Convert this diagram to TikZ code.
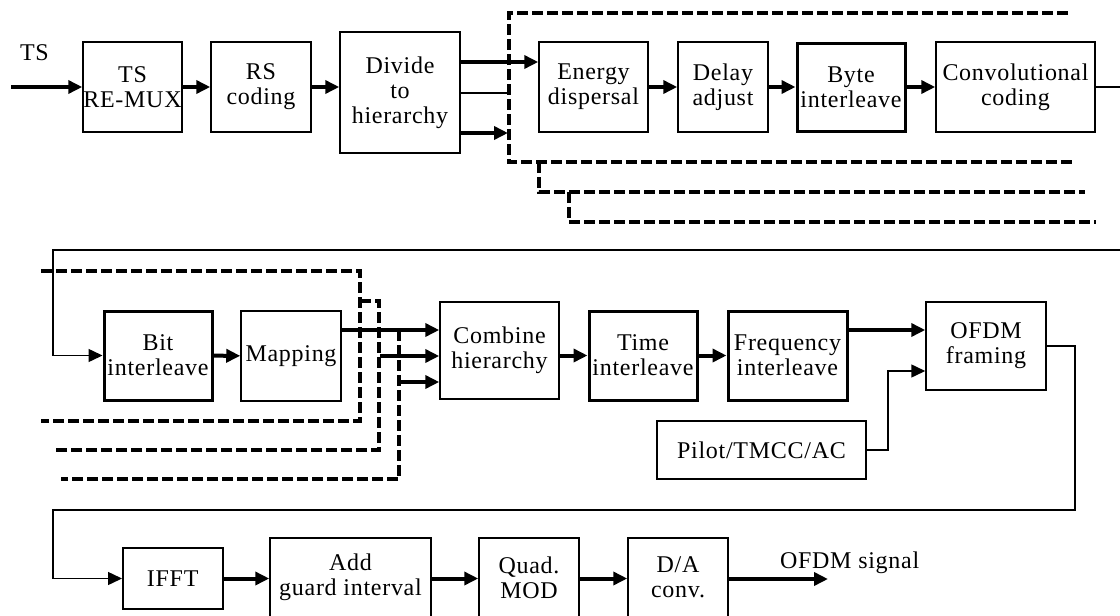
\documentclass[tikz,border=0pt]{standalone}
\usepackage{fontspec}
\setmainfont{Liberation Serif}[LetterSpace=3]
\usetikzlibrary{arrows.meta}

\begin{document}
\begin{tikzpicture}[x=1pt,y=-1pt,font=\fontsize{24}{25}\selectfont,line width=1.5pt,
  blk/.style={draw,align=center,inner sep=0pt},
  thk/.style={blk,line width=3pt},
  flow/.style={line width=4pt,-{Triangle[length=14pt,width=13pt]}},
  feed/.style={line width=1.5pt,-{Triangle[length=14pt,width=13pt]}},
  grp/.style={line width=3.5pt,dash pattern=on 11pt off 4pt}]
  \useasboundingbox (0,0) rectangle (1120,616);
  \clip (0,0) rectangle (1120,616);
  % first row
  \node[anchor=base west] (tslbl) at (16,60) {TS};
  \coordinate (src) at (11,87);
  \node[blk,minimum width=99,minimum height=90] (remux) at (132.5,87) {TS\\RE-MUX};
  \node[blk,minimum width=100,minimum height=90] (rs) at (261,87) {RS\\coding};
  \node[blk,minimum width=120,minimum height=121] (divide) at (400,92.5) {Divide\\to\\hierarchy};
  \node[blk,minimum width=109,minimum height=90] (energy) at (593.5,87) {Energy\\dispersal};
  \node[blk,minimum width=90,minimum height=90] (delay) at (723,87) {Delay\\adjust};
  \node[thk,minimum width=108,minimum height=88] (byte) at (851,87) {Byte\\interleave};
  \node[blk,minimum width=159,minimum height=90] (conv) at (1015.5,87) {Convolutional\\coding};
  \draw[flow] (src) -- (remux.west);
  \draw[flow] (remux) -- (rs);
  \draw[flow] (rs.east) -- (rs.east -| divide.west);
  \draw[flow] ([yshift=30.5pt]divide.east) -- ([yshift=25pt]energy.west);
  \coordinate (grpin) at (508,133);
  \draw ([yshift=-0.5pt]divide.east) -- (509,93);
  \draw[flow] ([yshift=-40.5pt]divide.east) -- (grpin);
  \draw[flow] (energy) -- (delay);
  \draw[flow] (delay) -- (byte);
  \draw[flow] (byte) -- (conv);
  % hierarchical layers
  \draw[grp] (1068,13) -- (509,13) -- (509,162) -- (1073,162);
  \draw[grp] (539,162) -- (539,192) -- (1085,192);
  \draw[grp] (569,192) -- (569,222) -- (1096,222);
  % second row
  \node[thk,minimum width=108,minimum height=89] (bit) at (158,355.5) {Bit\\interleave};
  \node[blk,minimum width=100,minimum height=90] (mapping) at (291,356) {Mapping};
  \node[blk,minimum width=119,minimum height=97] (combine) at (499.5,350.5) {Combine\\hierarchy};
  \node[thk,minimum width=108,minimum height=89] (time) at (643,355.5) {Time\\interleave};
  \node[thk,minimum width=119,minimum height=89] (freq) at (787.5,355.5) {Frequency\\interleave};
  \node[blk,minimum width=120,minimum height=88] (ofdm) at (986,346) {OFDM\\framing};
  \node[blk,minimum width=209,minimum height=58] (pilot) at (761.5,450) {Pilot/TMCC/AC};
  \draw[feed] (conv.east) -- (1126,87) -- (1126,250) -- (53,250) |- (bit.west);
  \draw[flow] (bit) -- (mapping);
  \draw[grp] (41,271) -- (360,271) -- (360,421) -- (41,421);
  \draw[grp] (360,301) -- (379,301) -- (379,450) -- (55,450);
  \draw[grp] (399,330) -- (399,479) -- (61,479);
  \coordinate (brB) at (380,356);
  \coordinate (brC) at (400,382);
  \draw[flow] ([yshift=26pt]mapping.east) -- ([yshift=20.5pt]combine.west);
  \draw[flow] (brB) -- (brB -| combine.west);
  \draw[flow] (brC) -- (brC -| combine.west);
  \draw[flow] (combine.east |- time.west) -- (time.west);
  \draw[flow] (time) -- (freq);
  \draw[flow] ([yshift=25.5pt]freq.east) -- ([yshift=16pt]ofdm.west);
  \draw[feed] (pilot.east) -- ++(21,0) |- ([yshift=-25pt]ofdm.west);
  % third row
  \node[blk,minimum width=100,minimum height=61] (ifft) at (172.75,578.5) {IFFT};
  \node[blk,minimum width=161,minimum height=79] (guard) at (350.5,577.5) {Add\\guard interval};
  \node[blk,minimum width=100,minimum height=79] (quad) at (529,577.5) {Quad.\\MOD};
  \node[blk,minimum width=100,minimum height=79] (da) at (678,577.5) {D/A\\conv.};
  \coordinate (sink) at (828,579);
  \node[anchor=base west] (outlbl) at (776,568) {OFDM signal};
  \draw[feed] (ofdm.east) -| (1075,510) -- (53,510) |- (ifft.west);
  \draw[flow] (ifft.east) -- (ifft.east -| guard.west);
  \draw[flow] (guard.east |- ifft.east) -- (quad.west |- ifft.east);
  \draw[flow] (quad.east |- ifft.east) -- (da.west |- ifft.east);
  \draw[flow] (da.east |- sink) -- (sink);
\end{tikzpicture}
\end{document}
